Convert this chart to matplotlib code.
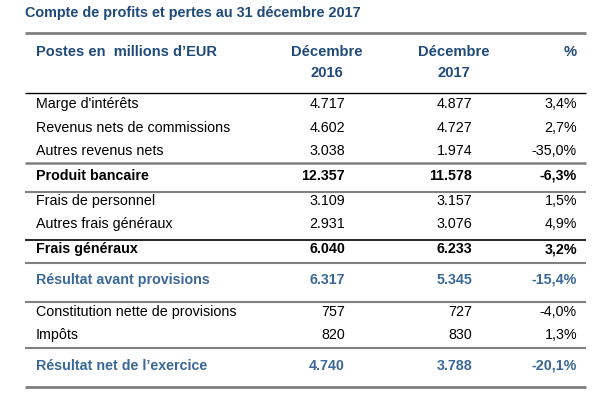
import matplotlib
matplotlib.use("Agg")
from matplotlib import pyplot as plt

plt.rcParams['font.family'] = ['Liberation Sans', 'DejaVu Sans']

# data
title = "Compte de profits et pertes au 31 décembre 2017"
col_header = "Postes en  millions d\u2019EUR"
col_years = ["Décembre\n2016", "Décembre\n2017"]
col_pct = "%"

postes = ["Marge d'intérêts", "Revenus nets de commissions", "Autres revenus nets",
          "Produit bancaire", "Frais de personnel", "Autres frais généraux",
          "Frais généraux", "Résultat avant provisions",
          "Constitution nette de provisions", "Impôts", "Résultat net de l\u2019exercice"]
dec2016 = ["4.717", "4.602", "3.038", "12.357", "3.109", "2.931", "6.040",
           "6.317", "757", "820", "4.740"]
dec2017 = ["4.877", "4.727", "1.974", "11.578", "3.157", "3.076", "6.233",
           "5.345", "727", "830", "3.788"]
pct = ["3,4%", "2,7%", "-35,0%", "-6,3%", "1,5%", "4,9%", "3,2%",
       "-15,4%", "-4,0%", "1,3%", "-20,1%"]
# row kind: n = normal, b = bold black, t = bold blue total
kind = ["n", "n", "n", "b", "n", "n", "b", "t", "n", "n", "t"]

# layout (pixel coords)
row_y = [104, 128, 151, 176, 201, 224, 249, 280, 312, 335, 366]
x_label = 36
x_2016 = 345
x_2017 = 472
x_pct = 577
x0, x1 = 25, 586

title_col = '#1f4a7a'
blue = '#3a6898'
gray = '#808080'

fig = plt.figure(figsize=(6, 4), dpi=100)
ax = fig.add_axes([0, 0, 1, 1])
ax.set_xlim(0, 600)
ax.set_ylim(400, 0)
ax.axis('off')

ax.text(x0, 13, title, color=title_col, fontsize=10.4, fontweight='bold', va='center')

# header
ax.text(x_label, 52, col_header, color=title_col, fontsize=10.5, fontweight='bold', va='center')
for xc, lab in zip([327, 454], col_years):
    ax.text(xc, 62.5, lab, color=title_col, fontsize=10.6, fontweight='bold',
            va='center', ha='center', linespacing=1.7)
ax.text(x_pct, 52, col_pct, color=title_col, fontsize=10.6, fontweight='bold',
        va='center', ha='right')

# rules
rules = [(33, gray, 2.0), (93, 'black', 1.0), (163, gray, 1.8), (192, gray, 1.5),
         (240, 'black', 1.2), (263, gray, 1.5), (302, gray, 1.5), (348, gray, 1.5),
         (387, gray, 2.0)]
for y, c, lw in rules:
    ax.plot([x0, x1], [y, y], color=c, lw=lw, solid_capstyle='butt')

for i, p in enumerate(postes):
    k = kind[i]
    col = blue if k == 't' else 'black'
    fw = 'normal' if k == 'n' else 'bold'
    y = row_y[i]
    ax.text(x_label, y, p, color=col, fontsize=10.3, fontweight=fw, va='center')
    ax.text(x_2016, y, dec2016[i], color=col, fontsize=10.3, fontweight=fw, va='center', ha='right')
    ax.text(x_2017, y, dec2017[i], color=col, fontsize=10.3, fontweight=fw, va='center', ha='right')
    ax.text(x_pct, y, pct[i], color=col, fontsize=10.3, fontweight=fw, va='center', ha='right')

fig.savefig('out.png', dpi=100)
